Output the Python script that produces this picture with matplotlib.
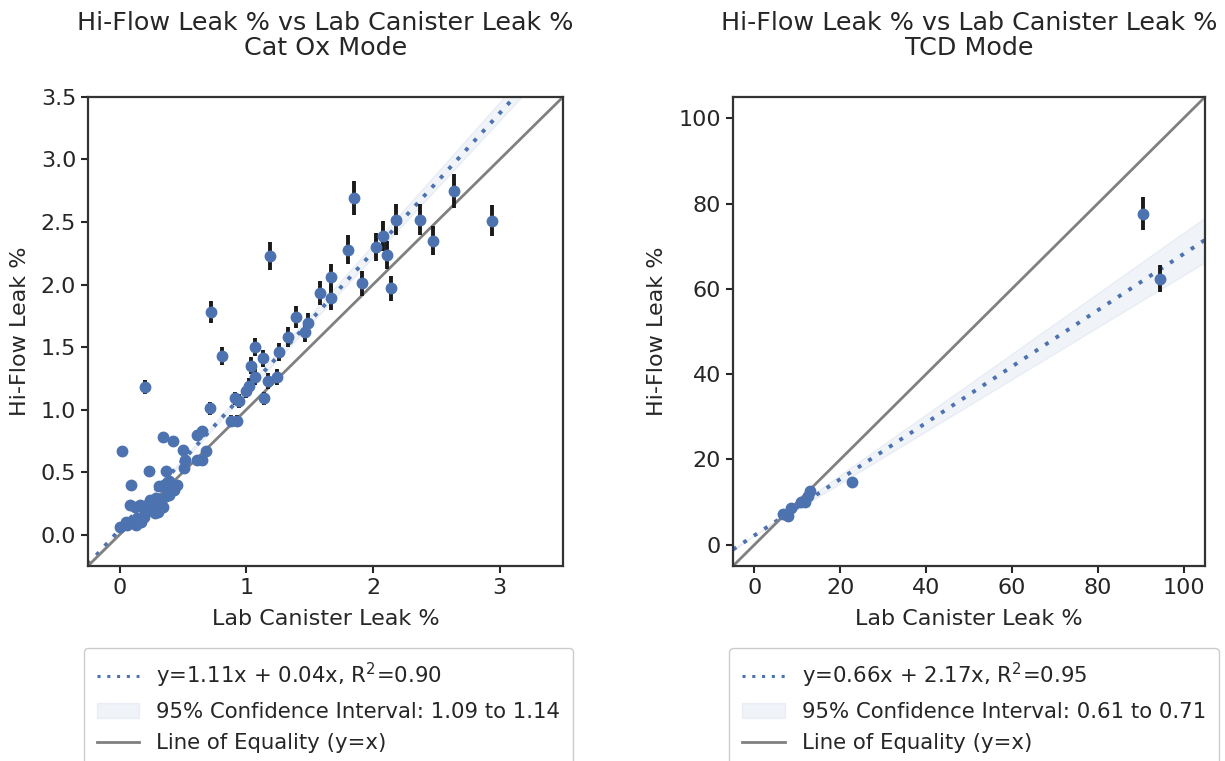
import numpy as np
import matplotlib
matplotlib.use("Agg")
import matplotlib.pyplot as plt
from matplotlib.lines import Line2D
from matplotlib.patches import Patch

# Cat Ox mode: lab canister leak % vs hi-flow leak %
catox_lab = [0.02, 0.20, 0.34, 0.42, 0.71, 0.72, 0.81, 0.23, 0.09, 0.37,
             0.50, 0.51, 0.65, 0.61, 0.65, 0.68, 0.88, 0.93, 0.91, 0.94,
             1.00, 1.02, 1.07, 1.04, 1.07, 1.13, 1.17, 1.24, 1.14, 1.26,
             1.33, 1.39, 1.46, 1.49, 1.19, 1.58, 1.67, 1.67, 1.80, 1.85,
             1.91, 2.02, 2.08, 2.11, 2.14, 2.18, 2.37, 2.47, 2.64, 2.94,
             0.52, 0.61, 0.37,
             0.39, 0.31, 0.27, 0.16, 0.08, 0.21, 0.11, 0.06, 0.13, 0.29,
             0.35, 0.39, 0.28, 0.19, 0.00, 0.10, 0.14, 0.25, 0.33, 0.38,
             0.30, 0.22, 0.18, 0.12, 0.05, 0.17, 0.24, 0.34, 0.43, 0.45]
catox_hiflow = [0.67, 1.18, 0.78, 0.75, 1.01, 1.78, 1.43, 0.51, 0.40, 0.51,
                0.68, 0.53, 0.60, 0.80, 0.83, 0.67, 0.91, 0.91, 1.09, 1.07,
                1.15, 1.19, 1.26, 1.35, 1.50, 1.41, 1.23, 1.26, 1.09, 1.46,
                1.58, 1.74, 1.62, 1.69, 2.23, 1.93, 1.89, 2.06, 2.28, 2.69,
                2.01, 2.30, 2.39, 2.24, 1.97, 2.52, 2.52, 2.35, 2.75, 2.51,
                0.60, 0.60, 0.31,
                0.32, 0.39, 0.24, 0.24, 0.24, 0.19, 0.11, 0.08, 0.08, 0.29,
                0.40, 0.43, 0.17, 0.14, 0.06, 0.10, 0.13, 0.20, 0.27, 0.35,
                0.18, 0.24, 0.22, 0.22, 0.10, 0.10, 0.28, 0.22, 0.36, 0.40]

# TCD mode
tcd_lab = [6.6, 7.7, 8.4, 10.8, 11.7, 12.4, 12.9, 22.7, 90.6, 94.6]
tcd_hiflow = [7.1, 6.6, 8.7, 10.1, 9.9, 11.3, 12.5, 14.6, 77.6, 62.4]

# regression results (slope, intercept, R^2, slope CI)
catox_fit = (1.11, 0.04, 0.90, 1.09, 1.14)
tcd_fit = (0.66, 2.17, 0.95, 0.61, 0.71)

rel_err = 0.05  # relative uncertainty of the hi-flow reading

blue = "#4C72B0"
txt = "#262626"
plt.rcParams.update({
    "font.size": 16,
    "text.color": txt,
    "axes.labelcolor": txt,
    "xtick.color": txt,
    "ytick.color": txt,
    "xtick.labelsize": 16,
    "ytick.labelsize": 16,
    "axes.edgecolor": "#333333",
    "axes.linewidth": 1.6,
    "xtick.major.width": 1.5,
    "ytick.major.width": 1.5,
    "xtick.major.size": 5,
    "ytick.major.size": 5,
})


def leak_plot(ax, x, y, fit, lims, ticks_x, ticks_y, mode):
    x = np.array(x)
    y = np.array(y)
    slope, icpt, r2, lo, hi = fit
    xx = np.linspace(lims[0], lims[1], 200)

    ax.fill_between(xx, lo * xx + icpt, hi * xx + icpt, color=blue, alpha=0.08,
                    edgecolor=blue, linewidth=1.0, zorder=1)
    ax.plot(xx, slope * xx + icpt, linestyle=(0, (1, 2.2)), color=blue,
            linewidth=2.8, zorder=2)
    ax.plot(lims, lims, color="grey", linewidth=2.0, zorder=2)
    ax.errorbar(x, y, yerr=rel_err * y, fmt="none", ecolor="#1a1a1a",
                elinewidth=2.8, zorder=3)
    ax.plot(x, y, "o", color=blue, markersize=7.5, zorder=4)

    ax.set_xlim(lims)
    ax.set_ylim(lims)
    ax.set_xticks(ticks_x)
    ax.set_yticks(ticks_y)
    ax.set_xlabel("Lab Canister Leak %", labelpad=8)
    ax.set_ylabel("Hi-Flow Leak %", labelpad=8)
    ax.set_title("Hi-Flow Leak % vs Lab Canister Leak %\n" + mode,
                 fontsize=18.3, pad=30, linespacing=1.05)

    handles = [
        Line2D([0], [0], linestyle=(0, (1, 2.2)), color=blue, linewidth=2.2),
        Patch(facecolor=blue, alpha=0.08, edgecolor=blue),
        Line2D([0], [0], color="grey", linewidth=2.0),
    ]
    labels = [
        "y=%.2fx + %.2fx, R$^2$=%.2f" % (slope, icpt, r2),
        "95%% Confidence Interval: %.2f to %.2f" % (lo, hi),
        "Line of Equality (y=x)",
    ]
    ax.legend(handles, labels, loc="upper left", bbox_to_anchor=(-0.008, -0.175),
              borderaxespad=0, fontsize=15.3, labelspacing=0.55, handlelength=2.0,
              borderpad=0.6, framealpha=1.0, edgecolor="#cccccc")


fig = plt.figure(figsize=(12.25, 7.61), dpi=100)
ax1 = fig.add_axes([0.0718, 0.2563, 0.3878, 0.6163])
ax2 = fig.add_axes([0.5984, 0.2563, 0.3853, 0.6163])

leak_plot(ax1, catox_lab, catox_hiflow, catox_fit, (-0.25, 3.5),
          [0, 1, 2, 3], np.arange(0, 3.51, 0.5), "Cat Ox Mode")
ax1.set_yticklabels(["%.1f" % v for v in np.arange(0, 3.51, 0.5)])
leak_plot(ax2, tcd_lab, tcd_hiflow, tcd_fit, (-5, 105),
          [0, 20, 40, 60, 80, 100], [0, 20, 40, 60, 80, 100], "TCD Mode")

fig.savefig("out.png", dpi=100)
